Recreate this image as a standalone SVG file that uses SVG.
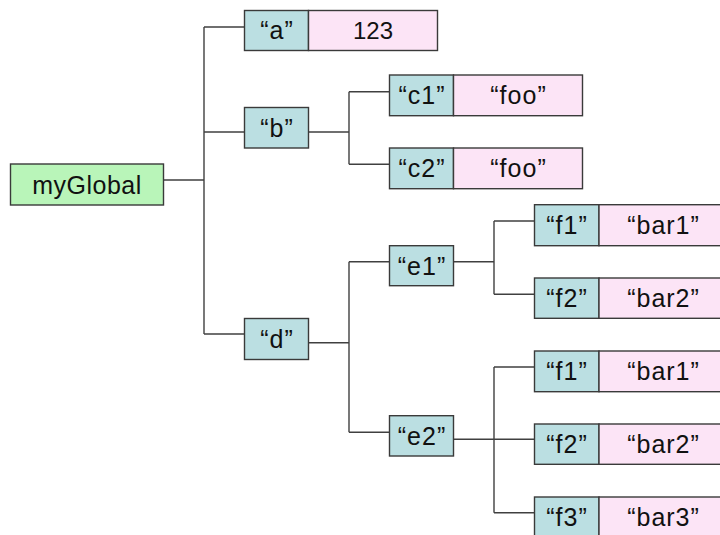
<svg xmlns="http://www.w3.org/2000/svg" width="720" height="535" viewBox="0 0 720 535">
<style>
.k{fill:#bbdfe2;stroke:#3a3a3a;stroke-width:1.4}
.v{fill:#fce4f6;stroke:#3a3a3a;stroke-width:1.4}
.g{fill:#b9f5b9;stroke:#3a3a3a;stroke-width:1.4}
.t{font-family:"Liberation Sans",Arial,sans-serif;font-size:25px;fill:#111;text-anchor:middle;letter-spacing:1px}
.m{letter-spacing:0.5px}
.n{font-size:24px;letter-spacing:0}
.c{fill:none;stroke:#404040;stroke-width:1.4}
</style>
<rect width="720" height="535" fill="#fff"/>
<g id="connectors">
<path class="c" d="M163.5 180H204M204 27V334M204 27H244.5M204 132H244.5M204 334H244.5"/>
<path class="c" d="M308.5 132H349M349 91.7V164.3M349 91.7H389.5M349 164.3H389.5"/>
<path class="c" d="M308.5 342.7H349M349 261.7V432.3M349 261.7H389.5M349 432.3H389.5"/>
<path class="c" d="M453.5 261.7H494M494 221V294.3M494 221H534.5M494 294.3H534.5"/>
<path class="c" d="M453.5 439.3H534.5M494 367V512.7M494 367H534.5M494 512.7H534.5"/>
</g>
<g id="myGlobal"><rect class="g" x="10.5" y="164" width="153" height="41"/><text class="t m" x="87" y="194">myGlobal</text></g>
<g id="a"><rect class="k" x="244.5" y="10.5" width="64" height="40"/><rect class="v" x="308.5" y="10.5" width="129" height="40"/><text class="t" x="277" y="39">“a”</text><text class="t n" x="373" y="38.5">123</text></g>
<g id="b"><rect class="k" x="244.5" y="107.5" width="64" height="40.5"/><text class="t" x="277" y="137">“b”</text></g>
<g id="c1"><rect class="k" x="389.5" y="75" width="64" height="40.7"/><rect class="v" x="453.5" y="75" width="129" height="40.7"/><text class="t" x="422" y="104">“c1”</text><text class="t" x="518.5" y="104">“foo”</text></g>
<g id="c2"><rect class="k" x="389.5" y="148" width="64" height="40.7"/><rect class="v" x="453.5" y="148" width="129" height="40.7"/><text class="t" x="422" y="177">“c2”</text><text class="t" x="518.5" y="177">“foo”</text></g>
<g id="d"><rect class="k" x="244.5" y="318.5" width="64" height="41"/><text class="t" x="277" y="348">“d”</text></g>
<g id="e1"><rect class="k" x="389.5" y="245.7" width="64" height="40"/><text class="t" x="422" y="275">“e1”</text></g>
<g id="e2"><rect class="k" x="389.5" y="415.7" width="64" height="40.3"/><text class="t" x="422" y="445">“e2”</text></g>
<g id="f1a"><rect class="k" x="534.5" y="204.7" width="64.5" height="41"/><rect class="v" x="599" y="204.7" width="130" height="41"/><text class="t" x="567" y="234">“f1”</text><text class="t" x="663.5" y="234">“bar1”</text></g>
<g id="f2a"><rect class="k" x="534.5" y="278" width="64.5" height="40.3"/><rect class="v" x="599" y="278" width="130" height="40.3"/><text class="t" x="567" y="307">“f2”</text><text class="t" x="663.5" y="307">“bar2”</text></g>
<g id="f1b"><rect class="k" x="534.5" y="351" width="64.5" height="40.7"/><rect class="v" x="599" y="351" width="130" height="40.7"/><text class="t" x="567" y="380">“f1”</text><text class="t" x="663.5" y="380">“bar1”</text></g>
<g id="f2b"><rect class="k" x="534.5" y="424" width="64.5" height="40.3"/><rect class="v" x="599" y="424" width="130" height="40.3"/><text class="t" x="567" y="453">“f2”</text><text class="t" x="663.5" y="453">“bar2”</text></g>
<g id="f3"><rect class="k" x="534.5" y="497" width="64.5" height="41"/><rect class="v" x="599" y="497" width="130" height="41"/><text class="t" x="567" y="526">“f3”</text><text class="t" x="663.5" y="526">“bar3”</text></g>
</svg>
